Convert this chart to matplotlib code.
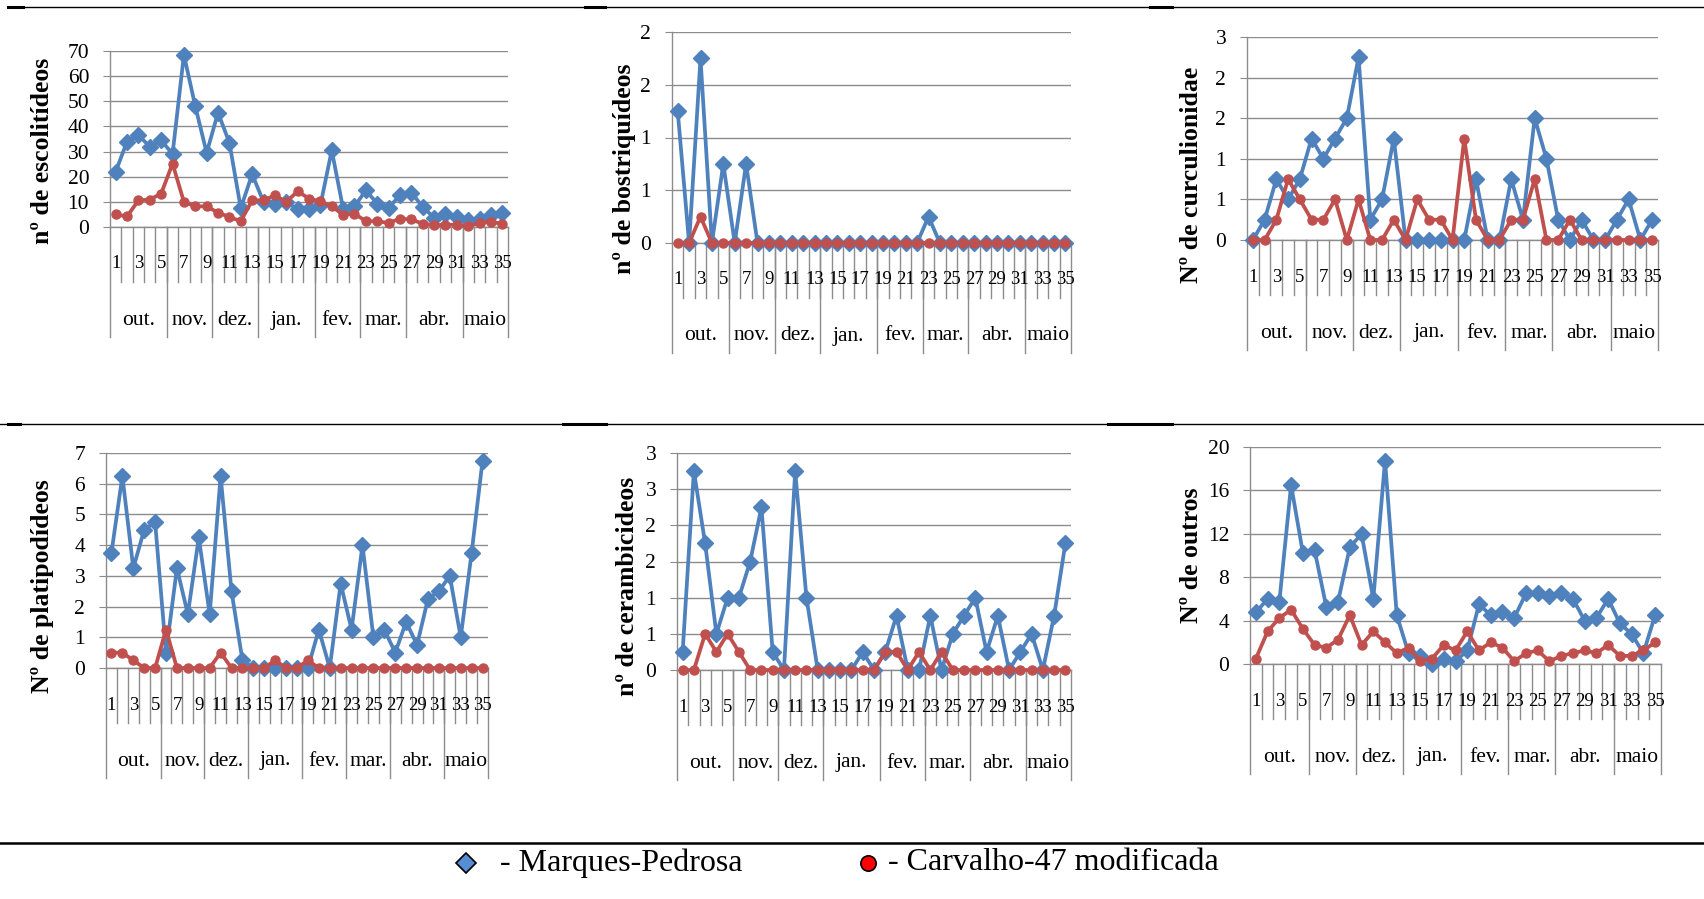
import numpy as np
import matplotlib
matplotlib.use("Agg")
import matplotlib.pyplot as plt
from matplotlib.lines import Line2D
from matplotlib.ticker import FuncFormatter, MultipleLocator

plt.rcParams['font.family'] = ['Liberation Serif', 'DejaVu Serif']

# semanas de amostragem e meses
semanas = list(range(1, 36))
meses = ["out.", "nov.", "dez.", "jan.", "fev.", "mar.", "abr.", "maio"]
semanas_por_mes = [5, 4, 4, 5, 4, 4, 5, 4]

# Marques-Pedrosa (mp) e Carvalho-47 modificada (c47)
escolitideos_mp = [22, 34, 36.5, 32, 34.5, 29, 68.5, 48, 29.5, 45.5, 33.5, 7.5, 21, 10, 9, 10, 7, 7.3,
                   8.6, 30.5, 7.3, 8.2, 14.6, 9.3, 7.7, 12.6, 13.7, 8, 3.7, 5, 4, 2.9, 3.3, 4.6, 5.6]
escolitideos_c47 = [5, 4.2, 10.6, 10.9, 13.3, 25.2, 10, 8.2, 8.2, 5.7, 4, 2.3, 10.6, 10.6, 12.6, 10, 14.2, 11.3,
                    10.2, 8.2, 4.9, 5.3, 2.3, 2.3, 1.6, 3.3, 3, 1.3, 0.7, 0.9, 0.9, 0.3, 1.6, 2, 1.3]

bostriquideos_mp = [1.25, 0, 1.75, 0, 0.75, 0, 0.75, 0, 0, 0, 0, 0, 0, 0, 0, 0, 0, 0,
                    0, 0, 0, 0, 0.25, 0, 0, 0, 0, 0, 0, 0, 0, 0, 0, 0, 0]
bostriquideos_c47 = [0, 0, 0.25, 0, 0, 0, 0, 0, 0, 0, 0, 0, 0, 0, 0, 0, 0, 0,
                     0, 0, 0, 0, 0, 0, 0, 0, 0, 0, 0, 0, 0, 0, 0, 0, 0]

curculionidae_mp = [0, 0.25, 0.75, 0.5, 0.75, 1.25, 1.0, 1.25, 1.5, 2.25, 0.25, 0.5, 1.25, 0, 0, 0, 0, 0,
                    0, 0.75, 0, 0, 0.75, 0.25, 1.5, 1.0, 0.25, 0, 0.25, 0, 0, 0.25, 0.5, 0, 0.25]
curculionidae_c47 = [0, 0, 0.25, 0.75, 0.5, 0.25, 0.25, 0.5, 0, 0.5, 0, 0, 0.25, 0, 0.5, 0.25, 0.25, 0,
                     1.25, 0.25, 0, 0, 0.25, 0.25, 0.75, 0, 0, 0.25, 0, 0, 0, 0, 0, 0, 0]

platipodideos_mp = [3.75, 6.25, 3.25, 4.5, 4.75, 0.5, 3.25, 1.75, 4.25, 1.75, 6.25, 2.5, 0.25, 0, 0, 0, 0, 0,
                    0, 1.25, 0, 2.75, 1.25, 4.0, 1.0, 1.25, 0.5, 1.5, 0.75, 2.25, 2.5, 3.0, 1.0, 3.75, 6.75]
platipodideos_c47 = [0.5, 0.5, 0.25, 0, 0, 1.25, 0, 0, 0, 0, 0.5, 0, 0, 0, 0, 0.25, 0, 0,
                     0.25, 0, 0, 0, 0, 0, 0, 0, 0, 0, 0, 0, 0, 0, 0, 0, 0]

cerambicideos_mp = [0.25, 2.75, 1.75, 0.5, 1.0, 1.0, 1.5, 2.25, 0.25, 0, 2.75, 1.0, 0, 0, 0, 0, 0.25, 0,
                    0.25, 0.75, 0, 0, 0.75, 0, 0.5, 0.75, 1.0, 0.25, 0.75, 0, 0.25, 0.5, 0, 0.75, 1.75]
cerambicideos_c47 = [0, 0, 0.5, 0.25, 0.5, 0.25, 0, 0, 0, 0, 0, 0, 0, 0, 0, 0, 0, 0,
                     0.25, 0.25, 0, 0.25, 0, 0.25, 0, 0, 0, 0, 0, 0, 0, 0, 0, 0, 0]

outros_mp = [4.75, 6, 5.75, 16.5, 10.25, 10.5, 5.25, 5.75, 10.75, 12, 6, 18.75, 4.5, 1.0, 0.75, 0, 0.5, 0.25,
             1.25, 5.5, 4.5, 4.75, 4.25, 6.5, 6.5, 6.25, 6.5, 6, 4.0, 4.25, 6, 3.75, 2.75, 1.0, 4.5]
outros_c47 = [0.5, 3, 4.25, 5, 3.25, 1.75, 1.5, 2.25, 4.5, 1.75, 3, 2, 1, 1.5, 0.25, 0.5, 1.75, 1.25,
              3, 1.25, 2, 1.5, 0.25, 1, 1.25, 0.25, 0.75, 1, 1.25, 1, 1.75, 0.75, 0.75, 1.25, 2]

W, H = 1704, 899
fig = plt.figure(figsize=(W / 100, H / 100), dpi=100)

AZUL = '#4F81BD'
VERMELHO = '#C0504D'
CINZA = '#8C8C8C'

excel_fmt = FuncFormatter(lambda v, p: str(int(np.floor(v + 0.5 + 1e-9))))

# (esquerda, direita, topo, zero) em pixeis; ylabel (x, y)
paineis = [
    (escolitideos_mp, escolitideos_c47, "nº de escolitídeos", 70, 10, (110, 508, 51, 227), (43, 151)),
    (bostriquideos_mp, bostriquideos_c47, "nº de bostriquídeos", 2, 0.5, (672, 1071, 32, 243), (625, 169)),
    (curculionidae_mp, curculionidae_c47, "Nº de curculionidae", 2.5, 0.5, (1247, 1658, 37, 240), (1192, 175)),
    (platipodideos_mp, platipodideos_c47, "Nº de platipodídeos", 7, 1, (106, 488, 453, 668), (43, 586)),
    (cerambicideos_mp, cerambicideos_c47, "nº de cerambicideos", 3, 0.5, (677, 1071, 453, 670), (627, 586)),
    (outros_mp, outros_c47, "Nº de outros", 20, 4, (1250, 1661, 447, 664), (1192, 555)),
]

for mp, c47, nome, ymax, passo, (l, r, t, z), (lx, ly) in paineis:
    ax = fig.add_axes([l / W, (H - z) / H, (r - l) / W, (z - t) / H])
    ax.set_xlim(0.5, 35.5)
    ax.set_ylim(0, ymax)
    ax.yaxis.set_major_locator(MultipleLocator(passo))
    ax.yaxis.set_major_formatter(excel_fmt)
    ax.grid(axis='y', color=CINZA, lw=1.0)
    ax.set_axisbelow(True)
    for s in ['top', 'right', 'bottom']:
        ax.spines[s].set_visible(False)
    ax.spines['left'].set_color(CINZA)
    ax.spines['left'].set_linewidth(1.0)
    ax.tick_params(axis='y', length=5, color=CINZA, labelsize=15.5, pad=10)
    ax.set_xticks([])

    ax.plot(semanas, mp, color=AZUL, lw=2.7, marker='D', ms=8.5, zorder=3, clip_on=False)
    ax.plot(semanas, c47, color=VERMELHO, lw=2.7, marker='o', ms=6.5, zorder=4, clip_on=False)

    # eixo de categorias (semanas / meses)
    hpx = z - t
    tr = ax.get_xaxis_transform()
    ax.plot([0.5, 35.5], [0, 0], color=CINZA, lw=1.0, transform=tr, clip_on=False, zorder=2)
    for b in np.arange(1.5, 35.5, 1):
        ax.plot([b, b], [0, -55 / hpx], color=CINZA, lw=1.0, transform=tr, clip_on=False)
    for s in semanas[::2]:
        ax.text(s, -37 / hpx, str(s), transform=tr, ha='center', va='center', fontsize=13.5)
    ini = 0.5
    ax.plot([ini, ini], [0, -110 / hpx], color=CINZA, lw=1.0, transform=tr, clip_on=False)
    for m, n in zip(meses, semanas_por_mes):
        fim = ini + n
        ax.plot([fim, fim], [0, -110 / hpx], color=CINZA, lw=1.0, transform=tr, clip_on=False)
        ax.text((ini + fim) / 2, -93 / hpx, m, transform=tr, ha='center', va='center', fontsize=15.5)
        ini = fim

    fig.text(lx / W, 1 - ly / H, nome, rotation=90, ha='center', va='center',
             fontsize=18.5, fontweight='bold')

# linhas de separacao da tabela
def hline(x0, x1, y, lw):
    fig.add_artist(Line2D([x0 / W, x1 / W], [1 - y / H, 1 - y / H], color='black', lw=lw))

hline(8, W, 7, 1.0)
for a, b in [(8, 23), (585, 605), (1150, 1172)]:
    hline(a, b, 7, 2.2)
hline(0, W, 424, 1.0)
for a, b in [(8, 20), (563, 606), (1108, 1172)]:
    hline(a, b, 424, 2.2)
hline(0, W, 843, 1.8)

# legenda
fig.add_artist(Line2D([466 / W], [1 - 863 / H], marker='D', ms=10, color='#558ED5',
                      markeredgecolor='black', markeredgewidth=1.2, lw=0))
fig.text(500 / W, 1 - 863 / H, "- Marques-Pedrosa", fontsize=23, ha='left', va='center')
fig.add_artist(Line2D([868 / W], [1 - 863 / H], marker='o', ms=11, color='#FF0000',
                      markeredgecolor='black', markeredgewidth=1.2, lw=0))
fig.text(888 / W, 1 - 863 / H, "- Carvalho-47 modificada", fontsize=23, ha='left', va='center')

fig.savefig("out.png", dpi=100)
